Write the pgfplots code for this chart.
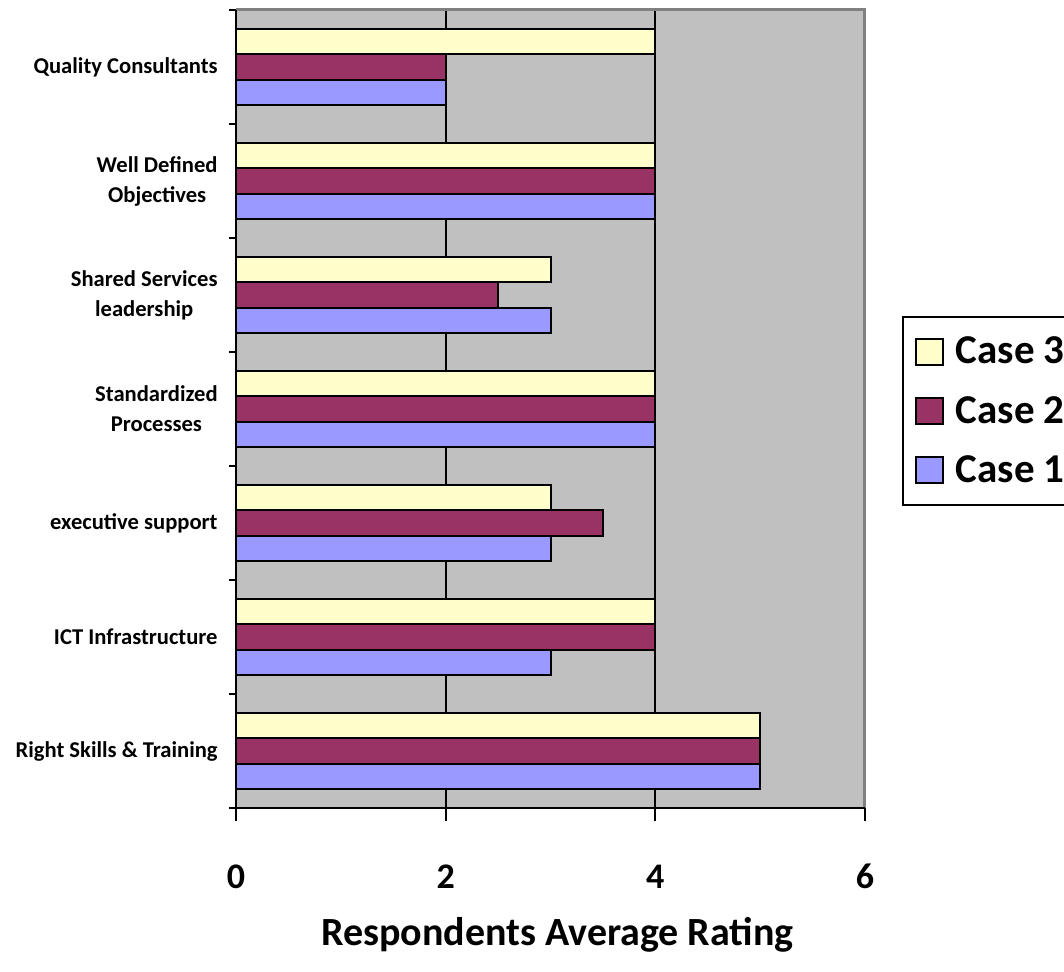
\documentclass[border=0pt]{standalone}
\usepackage{fontspec}
\setmainfont{Carlito}
\usepackage{pgfplots}
\pgfplotsset{compat=1.18}
\definecolor{caseone}{HTML}{9999FF}
\definecolor{casetwo}{HTML}{993366}
\definecolor{casethree}{HTML}{FFFFCC}
\definecolor{plotbg}{HTML}{C0C0C0}
\definecolor{framegray}{HTML}{808080}

\begin{document}
\begin{tikzpicture}[x=1pt,y=1pt]
\useasboundingbox (0,0) rectangle (532,486);
\begin{axis}[
  at={(118pt,82pt)}, anchor=south west,
  scale only axis, width=314.5pt, height=399pt,
  xbar, bar width=0.222,
  xmin=0, xmax=6, ymin=-0.5, ymax=6.5,
  xtick={0,2,4,6},
  ytick={0,...,6},
  yticklabels={Right Skills \& Training, ICT Infrastructure, executive support,
    Standardized\\Processes, Shared Services\\leadership, Well Defined\\Objectives,
    Quality Consultants},
  minor ytick={-0.5,0.5,...,6.5},
  tick pos=left, tick align=outside,
  major tick length=6.5pt, minor tick length=3.5pt,
  every major y tick/.append style={draw=none},
  every tick/.append style={black, line width=1pt},
  axis line style={draw=none},
  axis background/.style={fill=plotbg},
  xmajorgrids, major grid style={black, line width=1pt},
  /pgf/number format/assume math mode=true,
  xticklabel style={font=\fontsize{18pt}{20pt}\selectfont\bfseries, anchor=base, yshift=-34pt},
  yticklabel style={font=\fontsize{11.3pt}{15pt}\selectfont\bfseries, align=center,
    anchor=east, inner sep=0pt, xshift=-2.5pt},
  xlabel={Respondents Average Rating},
  xlabel style={font=\fontsize{20pt}{24pt}\selectfont\bfseries,
    at={(axis description cs:0.5,0)}, anchor=base, yshift=-69pt, xshift=3.5pt},
  reverse legend,
  legend cell align=left,
  legend style={at={(rel axis cs:1.0588,0.6165)}, anchor=north west,
    draw=black, line width=1pt, fill=white,
    font=\fontsize{20.5pt}{24pt}\selectfont\bfseries,
    row sep=10.6pt, inner xsep=6pt, inner ysep=8pt},
  legend image code/.code={
    \draw[#1, line width=0.8pt] (0pt,-6.5pt) rectangle (13.5pt,6.5pt);
    \path (17.5pt,0pt);
  },
  after end axis/.code={
    \draw[framegray, line width=1.5pt] (rel axis cs:0,1) -- (rel axis cs:1,1) -- (rel axis cs:1,0);
    \draw[black, line width=1pt] (rel axis cs:0,1) -- (rel axis cs:0,0) -- (rel axis cs:1,0);
  },
]
% Case 1 sits lowest in each group, Case 3 on top
\addplot[fill=caseone, draw=black, line width=1pt, bar shift=-0.222]
  coordinates {(5,0) (3,1) (3,2) (4,3) (3,4) (4,5) (2,6)};
\addlegendentry{Case 1\hspace*{12pt}}
\addplot[fill=casetwo, draw=black, line width=1pt, bar shift=0]
  coordinates {(5,0) (4,1) (3.5,2) (4,3) (2.5,4) (4,5) (2,6)};
\addlegendentry{Case 2\hspace*{12pt}}
\addplot[fill=casethree, draw=black, line width=1pt, bar shift=0.222]
  coordinates {(5,0) (4,1) (3,2) (4,3) (3,4) (4,5) (4,6)};
\addlegendentry{Case 3\hspace*{12pt}}
\end{axis}
\end{tikzpicture}
\end{document}
